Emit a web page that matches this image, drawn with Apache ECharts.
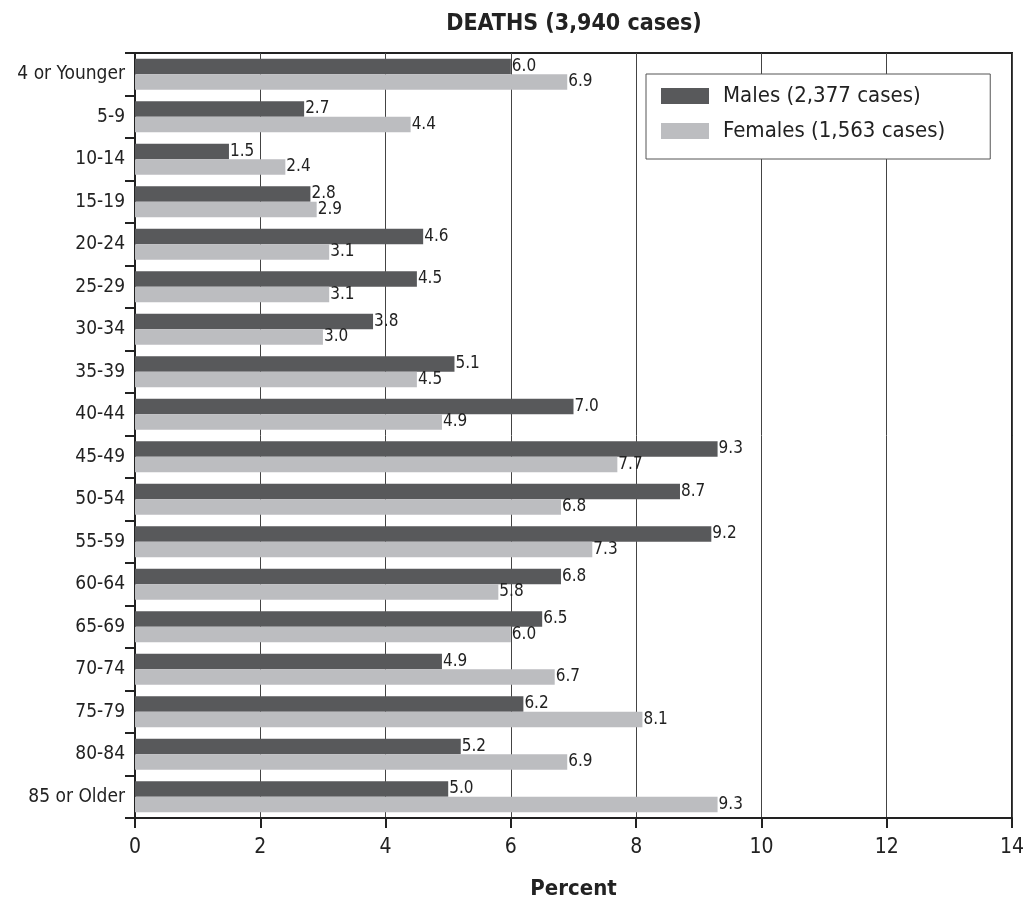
<!DOCTYPE html>
<html><head><meta charset="utf-8">
<script src="https://cdn.jsdelivr.net/npm/echarts@6/dist/echarts.min.js"></script>
<style>html,body{margin:0;padding:0;background:#fff}#c{width:1028px;height:903px}</style>
</head><body><div id="c"></div>
<script>
const categories = ["4 or Younger","5-9","10-14","15-19","20-24","25-29","30-34","35-39","40-44","45-49","50-54","55-59","60-64","65-69","70-74","75-79","80-84","85 or Older"];
const males = [6.0,2.7,1.5,2.8,4.6,4.5,3.8,5.1,7.0,9.3,8.7,9.2,6.8,6.5,4.9,6.2,5.2,5.0];
const females = [6.9,4.4,2.4,2.9,3.1,3.1,3.0,4.5,4.9,7.7,6.8,7.3,5.8,6.0,6.7,8.1,6.9,9.3];
const seriesNames = ["Males (2,377 cases)","Females (1,563 cases)"];
const titleText = "DEATHS (3,940 cases)";
const axisName = "Percent";

const font = "DejaVu Sans Condensed";
const chart = echarts.init(document.getElementById('c'), null, {renderer:'canvas'});
const lbl = {show:true, position:'right', distance:1, color:'#222', fontSize:17, fontFamily:font, formatter: p => p.value.toFixed(1)};
chart.setOption({
  animation:false,
  textStyle:{fontFamily:font},
  title:{text:titleText, left:569, top:8, textAlign:'center', textStyle:{fontSize:23, fontWeight:'bold', color:'#222', fontFamily:font}},
  legend:{orient:'vertical', left:646, top:74, itemWidth:48, itemHeight:16, itemGap:13,
    backgroundColor:'#fff', borderColor:'#555', borderWidth:1, padding:[11,45,17,15],
    textStyle:{fontSize:22, color:'#222', fontFamily:font, padding:[0,0,0,9]}, data:seriesNames, icon:'rect'},
  grid:{left:135, right:16, top:53, bottom:85, show:true, borderColor:'#222', borderWidth:2, containLabel:false, outerBoundsMode:'none'},
  xAxis:{type:'value', min:0, max:14, interval:2,
    axisLine:{show:true, lineStyle:{color:'#222', width:2}},
    axisTick:{show:true, length:10, lineStyle:{color:'#222', width:2}},
    axisLabel:{fontSize:21, color:'#222', margin:19, fontFamily:font},
    splitLine:{show:true, lineStyle:{color:'#444', width:1}},
    name:axisName, nameLocation:'middle', nameGap:60, nameTextStyle:{fontSize:22, fontWeight:'bold', color:'#222', fontFamily:font}},
  yAxis:{type:'category', data:categories, inverse:true,
    axisLine:{show:true, lineStyle:{color:'#222', width:2}},
    axisTick:{show:true, length:10, lineStyle:{color:'#222', width:2}},
    axisLabel:{fontSize:19, color:'#222', margin:10, fontFamily:font}},
  series:[
    {name:seriesNames[0], type:'bar', data:males, itemStyle:{color:'#58595b'}, barGap:'0%', barCategoryGap:'27%', label:lbl},
    {name:seriesNames[1], type:'bar', data:females, itemStyle:{color:'#bcbdc0'}, barGap:'0%', barCategoryGap:'27%', label:lbl}
  ]
});
</script></body></html>
